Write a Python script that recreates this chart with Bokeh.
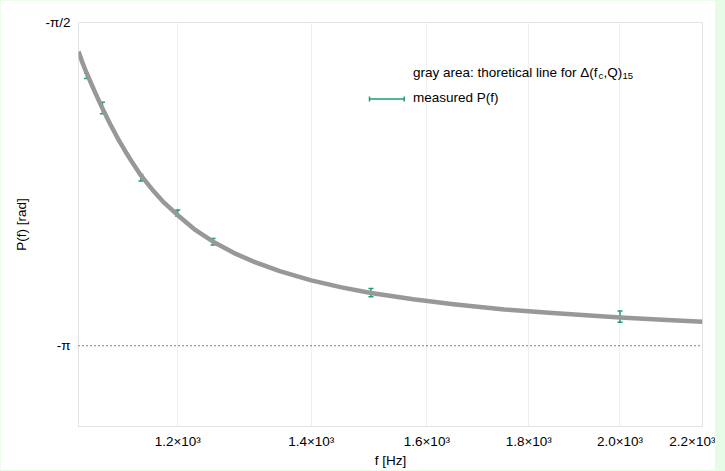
import numpy as np
from bokeh.plotting import figure
from bokeh.models import (FixedTicker, Whisker, TeeHead, Span, Label, Arrow,
                          ColumnDataSource, Range1d)
from bokeh.embed import file_html
from bokeh.resources import INLINE

# ---- data ----
# theoretical (gray) line, sampled along the drawn band
curve_f = [1070, 1075, 1080, 1085, 1090, 1095, 1100, 1110, 1120, 1130, 1140, 1150,
           1165, 1180, 1200, 1225, 1250, 1280, 1310, 1350, 1400, 1450, 1500, 1575,
           1650, 1750, 1850, 2000, 2100, 2200]
curve_p = [-1.712, -1.767, -1.816, -1.860, -1.904, -1.947, -1.988, -2.065, -2.136,
           -2.200, -2.259, -2.314, -2.382, -2.442, -2.507, -2.580, -2.636, -2.690,
           -2.733, -2.779, -2.824, -2.858, -2.885, -2.916, -2.940, -2.965, -2.983,
           -3.004, -3.015, -3.025]

# measured points with their error-bar half heights
meas_f = [1080, 1100, 1150, 1200, 1250, 1500, 2000]
meas_p = [-1.830, -1.986, -2.325, -2.497, -2.636, -2.884, -3.000]
meas_err = [0.013, 0.028, 0.016, 0.015, 0.016, 0.020, 0.027]

x_ticks = [1200, 1400, 1600, 1800, 2000, 2200]
x_tick_labels = ["1.2×10³", "1.4×10³", "1.6×10³", "1.8×10³", "2.0×10³", "2.2×10³"]
y_ticks = [-np.pi, -np.pi / 2]
y_tick_labels = ["-π", "-π/2"]

FONT = "Liberation Sans"
TEAL = "#1b9e77"
GRAY = "#989898"

p = figure(width=715, height=470, x_axis_type="log",
           x_range=Range1d(1070, 2200), y_range=Range1d(-3.534, -np.pi / 2),
           output_backend="svg", toolbar_location=None,
           min_border_left=78, min_border_right=13, min_border_top=22, min_border_bottom=44)
p.background_fill_color = "white"
p.border_fill_color = "white"
p.outline_line_color = "#e2e2e2"
p.outline_line_width = 1

# axes
p.xaxis.ticker = FixedTicker(ticks=x_ticks)
p.xaxis.major_label_overrides = {t: l for t, l in zip(x_ticks, x_tick_labels)}
p.yaxis.ticker = FixedTicker(ticks=y_ticks)
p.yaxis.major_label_overrides = {float(t): l for t, l in zip(y_ticks, y_tick_labels)}
for ax in (p.xaxis, p.yaxis):
    ax.axis_line_color = None
    ax.major_tick_line_color = None
    ax.minor_tick_line_color = None
    ax.major_label_text_font = FONT
    ax.major_label_text_font_size = "13.5px"
    ax.major_label_text_color = "black"
    ax.axis_label_text_font = FONT
    ax.axis_label_text_font_size = "13.5px"
    ax.axis_label_text_font_style = "normal"
    ax.axis_label_text_color = "black"
p.xaxis.axis_label = "f [Hz]"
p.yaxis.axis_label = "P(f) [rad]"
p.xaxis.major_label_standoff = 1
p.xaxis.axis_label_standoff = 1
p.yaxis.major_label_standoff = 2
p.yaxis.axis_label_standoff = 13

p.xgrid.ticker = FixedTicker(ticks=x_ticks)
p.xgrid.grid_line_color = "#efefef"
p.ygrid.visible = False

# dotted -pi line
p.add_layout(Span(location=-np.pi, dimension="width", line_color="black",
                  line_width=1, line_dash="1 3"))

# theoretical band
p.line(curve_f, curve_p, line_width=4.5, line_color=GRAY, line_join="round")

# measured points with error bars
src = ColumnDataSource(dict(f=meas_f,
                            up=[v + e for v, e in zip(meas_p, meas_err)],
                            lo=[v - e for v, e in zip(meas_p, meas_err)]))
p.add_layout(Whisker(base="f", upper="up", lower="lo", dimension="height", source=src,
                     line_color=TEAL, line_width=1.5,
                     upper_head=TeeHead(size=5, line_color=TEAL, line_width=1.5),
                     lower_head=TeeHead(size=5, line_color=TEAL, line_width=1.5)))

# legend texts placed in screen units (relative to the plot frame)
def lab(x, y, text, size="13.5px", align="left"):
    p.add_layout(Label(x=x, y=y, x_units="screen", y_units="screen", text=text,
                       text_font=FONT, text_font_size=size, text_color="black",
                       text_baseline="middle", text_align=align))

lab(334.4, 354.3, "gray area: thoretical line for Δ(f")
lab(520.0, 350.8, "c", "9.5px")
lab(525.0, 354.3, ",Q)")
lab(544.0, 350.3, "15", "9.5px")
lab(334.4, 329.0, "measured P(f)")

p.add_layout(Arrow(x_start=291, y_start=327.5, x_end=325.7, y_end=327.5,
                   start_units="screen", end_units="screen",
                   line_color=TEAL, line_width=1.5,
                   start=TeeHead(size=5, line_color=TEAL, line_width=1.5),
                   end=TeeHead(size=5, line_color=TEAL, line_width=1.5)))

html = file_html(p, INLINE)
html = html.replace("<head>", "<head><style>body{background:#e6fce6;}</style>", 1)
open("out.html", "w").write(html)
